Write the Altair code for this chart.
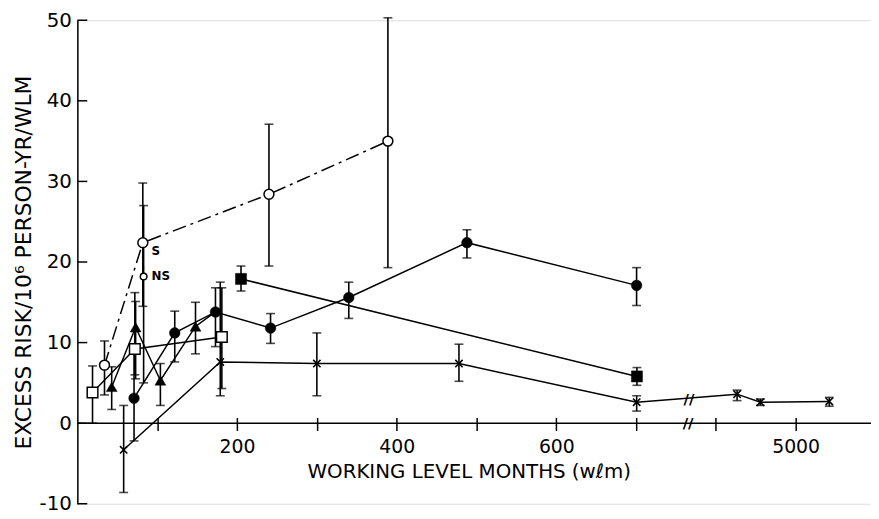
import altair as alt
import pandas as pd

# ---- data (x = working level months, y = excess risk) ----
circ_x = [71, 122, 173, 242, 340, 488, 717]
circ_y = [3.1, 11.2, 13.8, 11.8, 15.6, 22.4, 17.1]
circ_lo = [-2.2, 7.6, 9.5, 9.9, 13.0, 20.5, 14.6]
circ_hi = [9.5, 13.9, 16.8, 13.6, 17.5, 24.0, 19.3]

s_x = [34, 82, 240, 389]
s_y = [7.2, 22.4, 28.4, 35.0]
s_lo = [3.5, 14.5, 19.5, 19.3]
s_hi = [10.2, 29.8, 37.1, 50.3]

ns_x = [83]
ns_y = [18.2]
ns_lo = [5.0]
ns_hi = [27.0]

tri_x = [43, 73, 104, 148]
tri_y = [4.5, 11.9, 5.3, 12.0]
tri_lo = [1.7, 5.5, 2.2, 8.6]
tri_hi = [7.0, 15.1, 7.4, 15.0]

osq_x = [19, 72, 181]
osq_y = [3.8, 9.2, 10.7]
osq_lo = [0.0, 6.0, 4.3]
osq_hi = [7.1, 16.2, 16.8]

fsq_x = [205, 732]
fsq_y = [17.9, 5.8]
fsq_lo = [16.4, 4.7]
fsq_hi = [19.5, 6.9]

xm_x = [58, 179, 300, 478, 721, 4270, 4560, 5420]
xm_y = [-3.3, 7.6, 7.4, 7.4, 2.6, 3.6, 2.6, 2.7]
xm_lo = [-8.6, 3.4, 3.4, 5.2, 1.5, 2.8, 2.2, 2.1]
xm_hi = [2.2, 17.5, 11.2, 9.8, 3.4, 4.1, 3.0, 3.2]

y_ticks = [-10, 0, 10, 20, 30, 40, 50]
x_ticks = [100, 200, 300, 400, 500, 600, 700, 4000, 5000]
x_labelled = [200, 400, 600, 5000]

note_text = ["S", "NS"]
note_x = [93, 93]
note_y = [21.3, 18.2]

break_x = [2860, 2900]
break_y = [0.0, 3.0]

FONT = "DejaVu Sans"
W, H = 801, 488


def frame(xs, ys, lo=None, hi=None):
    d = pd.DataFrame({"wlm": xs, "risk": ys})
    if lo is not None:
        d["lo"] = lo
        d["hi"] = hi
    return d


circ = frame(circ_x, circ_y, circ_lo, circ_hi)
s_df = frame(s_x, s_y, s_lo, s_hi)
ns_df = frame(ns_x, ns_y, ns_lo, ns_hi)
tri = frame(tri_x, tri_y, tri_lo, tri_hi)
osq = frame(osq_x, osq_y, osq_lo, osq_hi)
fsq = frame(fsq_x, fsq_y, fsq_lo, fsq_hi)
xm = frame(xm_x, xm_y, xm_lo, xm_hi)
all_err = pd.concat([circ, s_df, ns_df, tri, osq, fsq, xm], ignore_index=True)

# triangle line joins the filled-circle point at 173 WLM
tri_line = frame(tri_x + [circ_x[2]], tri_y + [circ_y[2]])
ns_line = frame([s_x[1], ns_x[0]], [s_y[1], ns_y[0]])

label_test = " || ".join(f"datum.value == {v}" for v in x_labelled)

xscale = alt.Scale(domain=[0, 700, 4000, 5940], range=[0, 564, 644, W], nice=False, zero=False)
yscale = alt.Scale(domain=[-10, 50], nice=False, zero=False)

X = alt.X(
    "wlm:Q",
    scale=xscale,
    axis=alt.Axis(
        values=x_ticks,
        format="d",
        labelExpr=f"({label_test}) ? toString(datum.value) : ''",
        orient="bottom",
        offset=-87,
        domain=False,
        ticks=True,
        tickSize=13,
        tickWidth=1.5,
        tickColor="black",
        labelPadding=7,
        labelFont=FONT,
        labelFontSize=19,
        labelColor="black",
        grid=False,
        title="WORKING LEVEL MONTHS (wℓm)",
        titleFont=FONT,
        titleFontSize=20,
        titleFontWeight="normal",
        titleColor="black",
        titleX=395,
        titleY=61,
        titleAlign="center",
        titleBaseline="alphabetic",
    ),
)
Y = alt.Y(
    "risk:Q",
    scale=yscale,
    axis=alt.Axis(
        values=y_ticks,
        labelExpr="toString(datum.value)",
        domain=True,
        domainColor="black",
        domainWidth=1.5,
        ticks=False,
        tickSize=0,
        labelPadding=6,
        labelFont=FONT,
        labelFontSize=20,
        labelColor="black",
        grid=False,
        title="EXCESS RISK/10⁶ PERSON-YR/WLM",
        titleFont=FONT,
        titleFontSize=22,
        titleFontWeight="normal",
        titleColor="black",
        titleX=-47,
        titleY=244,
        titleAlign="center",
        titleBaseline="alphabetic",
        titleAngle=270,
    ),
)

zero_line = alt.Chart(pd.DataFrame({"risk": [0]})).mark_rule(
    color="black", strokeWidth=1.5
).encode(y=Y, x=alt.value(0), x2=alt.value(W))

yticks = alt.Chart(pd.DataFrame({"risk": y_ticks})).mark_rule(
    color="black", strokeWidth=1.5
).encode(y=Y, x=alt.value(0), x2=alt.value(10))


def line(df, dash=None, width=1.5):
    kw = dict(color="black", strokeWidth=width)
    if dash:
        kw["strokeDash"] = dash
    return alt.Chart(df).mark_line(**kw).encode(x=X, y=Y, order="wlm:Q")


lines = [
    line(circ),
    line(tri_line),
    line(osq),
    line(fsq),
    line(xm),
    line(s_df, dash=[14, 5, 3, 5]),
    line(ns_line, dash=[3, 3]),
]

err_rules = alt.Chart(all_err).mark_rule(color="black", strokeWidth=1.6).encode(
    x=X, y=alt.Y("lo:Q", scale=yscale), y2="hi:Q"
)
cap_lo = alt.Chart(all_err).mark_tick(
    color="black", orient="horizontal", size=9, thickness=1.6
).encode(x=X, y=alt.Y("lo:Q", scale=yscale))
cap_hi = alt.Chart(all_err).mark_tick(
    color="black", orient="horizontal", size=9, thickness=1.6
).encode(x=X, y=alt.Y("hi:Q", scale=yscale))


def pts(df, shape, size, open_=False, sw=1.5):
    if open_:
        m = alt.Chart(df).mark_point(
            shape=shape, size=size, filled=True, fill="white", stroke="black",
            strokeWidth=sw, opacity=1,
        )
    else:
        m = alt.Chart(df).mark_point(
            shape=shape, size=size, filled=True, fill="black", stroke="black",
            strokeWidth=0.5, opacity=1,
        )
    return m.encode(x=X, y=Y)


xshape = "M-1,-1L1,1M-1,1L1,-1"
markers = [
    pts(tri, "triangle-up", 120),
    pts(osq, "square", 115, open_=True),
    pts(circ, "circle", 115),
    pts(fsq, "square", 125),
    pts(s_df, "circle", 100, open_=True),
    pts(ns_df, "circle", 45, open_=True),
    alt.Chart(xm).mark_point(
        shape=xshape, size=55, filled=False, stroke="black", strokeWidth=1.6, opacity=1
    ).encode(x=X, y=Y),
]

notes = alt.Chart(
    pd.DataFrame({"wlm": note_x, "risk": note_y, "t": note_text})
).mark_text(
    align="left", baseline="middle", font=FONT, fontSize=12, fontWeight="bold", color="black"
).encode(x=X, y=Y, text="t:N")

breaks = alt.Chart(
    pd.DataFrame({"wlm": break_x, "risk": break_y, "t": ["//", "//"]})
).mark_text(
    align="center", baseline="middle", font=FONT, fontSize=15, fontWeight="bold", color="black"
).encode(x=X, y=Y, text="t:N")

chart = alt.layer(
    zero_line, yticks, *lines, err_rules, cap_lo, cap_hi, *markers, notes, breaks
).properties(
    width=W,
    height=H,
    autosize=alt.AutoSizeParams(type="none"),
    padding={"left": 70, "top": 10, "right": 0, "bottom": 10},
).configure_view(stroke=None).configure(background="white")

chart.save("out.html", embed_options={"renderer": "svg", "actions": False})
